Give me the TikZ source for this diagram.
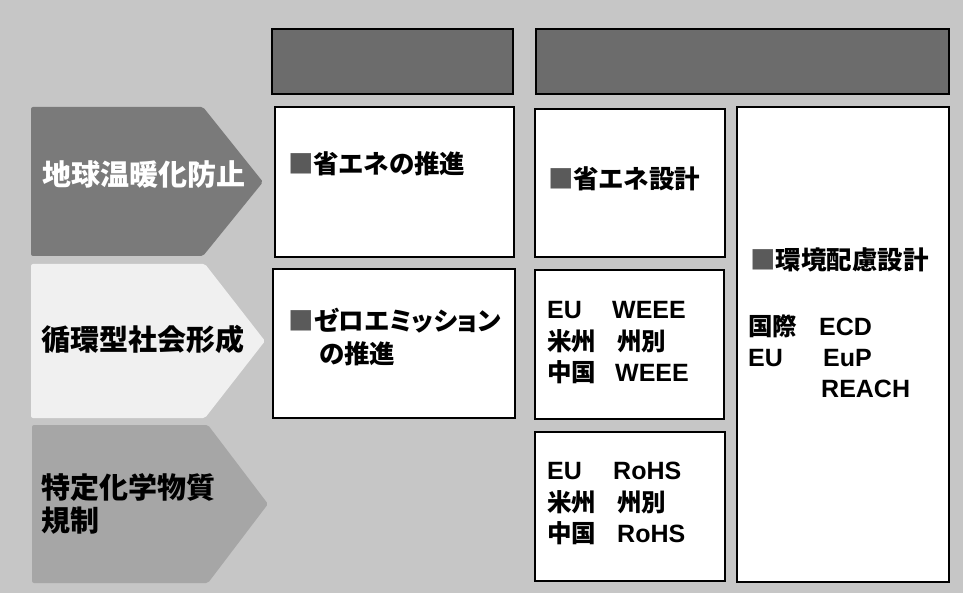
\documentclass[tikz,border=0pt]{standalone}
\usepackage{fontspec}
\newfontfamily\jp{Noto Sans CJK JP}[RawFeature=+palt]
\newfontfamily\lat{Liberation Sans}
\definecolor{bgc}{HTML}{C6C6C6}
\definecolor{hdrc}{HTML}{6C6C6C}
\definecolor{aone}{HTML}{7A7A7A}
\definecolor{atwo}{HTML}{F0F0F0}
\definecolor{athree}{HTML}{A6A6A6}
\definecolor{markc}{HTML}{5A5A5A}
\newcommand{\mk}{{\color{markc}■}}
\begin{document}
\begin{tikzpicture}[x=1pt,y=-1pt,
  hdr/.style={draw=black,line width=1.2pt,fill=hdrc},
  cell/.style={draw=black,line width=1.2pt,fill=white},
  tj/.style={anchor=west,inner sep=0pt,text height=0.86em,text depth=0.14em,font=\jp\bfseries\fontsize{25.5}{30}\selectfont},
  tl/.style={anchor=west,inner sep=0pt,text height=0.86em,text depth=0.14em,font=\lat\bfseries\fontsize{25}{30}\selectfont},
  tc/.style={anchor=west,inner sep=0pt,text height=0.86em,text depth=0.14em,font=\jp\bfseries\fontsize{24.5}{30}\selectfont},
  ta/.style={anchor=west,inner sep=0pt,text height=0.86em,text depth=0.14em,font=\jp\bfseries\fontsize{29}{33}\selectfont}]
\useasboundingbox (0,0) rectangle (963,593);
\fill[bgc] (0,0) rectangle (963,593);

% header boxes
\draw[hdr] (272,29) rectangle (513,94);
\draw[hdr] (536,29) rectangle (949,94);

% left arrows
\fill[aone,rounded corners=2pt] (31,107) -- (203,107) -- (263,182) -- (203,256) -- (31,256) -- cycle;
\fill[atwo,rounded corners=2pt] (31,264) -- (205,264) -- (265,341) -- (205,418) -- (31,418) -- cycle;
\fill[athree,rounded corners=2pt] (32,425) -- (208,425) -- (268,504) -- (208,583) -- (32,583) -- cycle;

\node[ta,text=white] (l1) at (42,182) {地球温暖化防止};
\node[ta] (l2) at (41,347) {循環型社会形成};
\node[ta] (l3a) at (41,495) {特定化学物質};
\node[ta] (l3b) at (41,528) {規制};

% cells
\draw[cell] (275,107) rectangle (514,257);
\draw[cell] (535,109) rectangle (725,257);
\draw[cell] (737,107) rectangle (949,582);
\draw[cell] (273,269) rectangle (515,418);
\draw[cell] (535,270) rectangle (724,419);
\draw[cell] (535,432) rectangle (725,581);

% cell texts
\node[tj] (t1) at (288,170) {\mk 省エネの推進};
\node[tj] (t2) at (548,185) {\mk 省エネ設計};
\node[tj] (t3a) at (288,327) {\mk ゼロエミッション};
\node[tj] (t3b) at (319,360) {の推進};

\node[tl] (w1a) at (547,315) {EU};
\node[tl] (w1b) at (612,315) {WEEE};
\node[tc] (w2a) at (547,347) {米州};
\node[tc] (w2b) at (617,347) {州別};
\node[tc] (w3a) at (547,378) {中国};
\node[tl] (w3b) at (615,378) {WEEE};

\node[tl] (r1a) at (547,476) {EU};
\node[tl] (r1b) at (613,476) {RoHS};
\node[tc] (r2a) at (547,508) {米州};
\node[tc] (r2b) at (617,508) {州別};
\node[tc] (r3a) at (547,539) {中国};
\node[tl] (r3b) at (617,539) {RoHS};

\node[tj] (e0) at (750,266) {\mk 環境配慮設計};
\node[tc] (e1a) at (748,332) {国際};
\node[tl] (e1b) at (819,332) {ECD};
\node[tl] (e2a) at (748,363) {EU};
\node[tl] (e2b) at (823,363) {EuP};
\node[tl] (e3b) at (821,394) {REACH};
\end{tikzpicture}
\end{document}
